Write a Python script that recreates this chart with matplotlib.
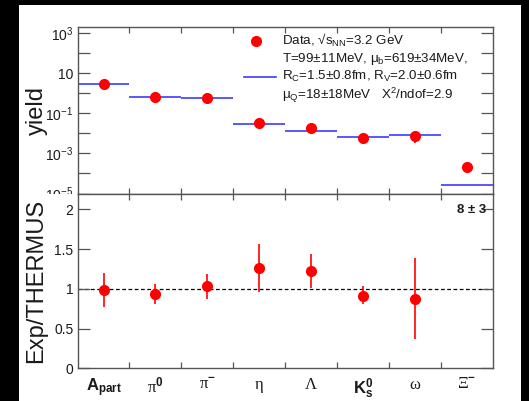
import numpy as np
import matplotlib
matplotlib.use("Agg")
import matplotlib.pyplot as plt
from matplotlib.patches import Rectangle
from matplotlib.transforms import Bbox, TransformedBbox

plt.rcParams['font.family'] = ['Liberation Sans', 'DejaVu Sans']
plt.rcParams['mathtext.fontset'] = 'custom'
plt.rcParams['mathtext.rm'] = 'Liberation Sans'
plt.rcParams['mathtext.it'] = 'Liberation Sans:italic'
plt.rcParams['mathtext.bf'] = 'Liberation Sans:bold'

# ---------------- data ----------------
categories = [r"A$_{\mathbf{part}}$", r"π$^{\mathbf{0}}$", r"π$^{\mathbf{-}}$", "η", "Λ",
              r"K$^{\mathbf{0}}_{\mathbf{s}}$", "ω", r"Ξ$^{\mathbf{-}}$"]
cat_bold = [True, False, False, False, False, True, False, False]
cat_serif = [False, True, True, True, True, False, True, True]

yield_data = [2.8, 0.65, 0.60, 0.035, 0.018, 0.0058, 0.0073, 2.1e-4]
yield_err = [0.3, 0.06, 0.06, 0.004, 0.002, 0.0006, 0.004, 2e-5]
yield_model = [3.0, 0.67, 0.60, 0.028, 0.014, 0.0065, 0.0079, 2.8e-5]

ratio = [0.99, 0.94, 1.035, 1.26, 1.22, 0.913, 0.875]
ratio_err_lo = [0.215, 0.13, 0.165, 0.30, 0.215, 0.11, 0.51]
ratio_err_hi = [0.215, 0.125, 0.155, 0.305, 0.22, 0.12, 0.51]

yield_ticks = [1e-5, 1e-4, 1e-3, 1e-2, 1e-1, 1, 10, 100, 1000]
yield_ticklabels = [r"10$^{-5}$", "", r"10$^{-3}$", "", r"10$^{-1}$", "", "10", "", r"10$^{3}$"]
ratio_ticks = [0, 0.5, 1, 1.5, 2]
ratio_ticklabels = ["0", "0.5", "1", "1.5", "2"]

W, H = 529, 401
fig = plt.figure(figsize=(W / 100, H / 100), dpi=100, facecolor='black')
fig.patches.append(Rectangle((19 / W, 0), 502 / W, 396 / H, transform=fig.transFigure,
                             facecolor='white', edgecolor='none', zorder=-10))

left, right = 77.6 / W, 492.6 / W
top_t, mid, bot = 1 - 27.3 / H, 1 - 193.5 / H, 1 - 368.3 / H
ax1 = fig.add_axes([left, mid, right - left, top_t - mid])
ax2 = fig.add_axes([left, bot, right - left, mid - bot])

n = len(categories)
x = np.arange(n) + 0.5
edges = np.arange(n + 1)
red = '#ff0000'
blue = '#3b3bff'
spc = '#555555'
txtc = '#1a1a1a'

# ---- top panel ----
ax1.set_yscale('log')
ax1.set_ylim(1e-5, 2000)
ax1.set_xlim(0, n)
ax1.hlines(yield_model, edges[:-1], edges[1:], color=blue, lw=1.2, zorder=2)
ax1.errorbar(x, yield_data, yerr=yield_err, fmt='o', color=red, ms=7, elinewidth=1.2,
             capsize=0, zorder=3)
ax1.set_yticks(yield_ticks)
ax1.set_yticklabels(yield_ticklabels)
ax1.yaxis.set_minor_locator(matplotlib.ticker.NullLocator())
ax1.set_xticks(edges[1:-1])
ax1.set_xticklabels([])

# legend
ax1.plot([0.429], [0.918], 'o', color=red, ms=7, transform=ax1.transAxes, clip_on=False)
ax1.plot([0.402, 0.479], [0.703, 0.703], color=blue, lw=1.2, transform=ax1.transAxes)
leg_lines = [r"Data, √s$_{\rm NN}$=3.2 GeV",
             r"T=99±11MeV, μ$_{\rm b}$=619±34MeV,",
             r"R$_{\rm C}$=1.5±0.8fm, R$_{\rm V}$=2.0±0.6fm",
             r"μ$_{\rm Q}$=18±18MeV   Χ$^{2}$/ndof=2.9"]
leg_y = [0.918, 0.808, 0.703, 0.588]
for s, yy in zip(leg_lines, leg_y):
    ax1.text(0.4925, yy, s, transform=ax1.transAxes, fontsize=9.6, va='center', ha='left',
             color=txtc)

# ---- bottom panel ----
ax2.set_xlim(0, n)
ax2.set_ylim(0, 2.2)
ax2.axhline(1, color='black', ls=(0, (3, 2)), lw=0.9, zorder=1)
ax2.errorbar(x[:len(ratio)], ratio, yerr=[ratio_err_lo, ratio_err_hi], fmt='o', color=red,
             ms=7, elinewidth=1.2, capsize=0, zorder=3)
ax2.set_yticks(ratio_ticks)
ax2.set_yticklabels(ratio_ticklabels)
ax2.set_xticks(edges[1:-1])
ax2.set_xticklabels([])
ax2.set_xticks(x, minor=True)
ax2.set_xticklabels(categories, minor=True)
ax2.tick_params(axis='x', which='minor', length=0, pad=6, labelsize=12)
for lab, b, s in zip(ax2.get_xticklabels(minor=True), cat_bold, cat_serif):
    lab.set_color(txtc)
    if b:
        lab.set_fontweight('bold')
    if s:
        lab.set_fontfamily(['Liberation Serif', 'DejaVu Serif'])
ax2.text(0.985, 0.905, "8 ± 3", transform=ax2.transAxes, ha='right', va='center',
         fontsize=9.5, fontweight='bold', color=txtc)

for ax in (ax1, ax2):
    for sp in ax.spines.values():
        sp.set_color(spc)
        sp.set_linewidth(1.0)
    ax.tick_params(axis='y', which='major', direction='in', left=True, right=True,
                   length=8.5, width=0.9, color=spc, labelsize=10, labelcolor=txtc, pad=3)
    ax.tick_params(axis='x', which='major', direction='in', top=True, bottom=True,
                   length=4.5, width=0.9, color=spc)

# clip the 10^-5 label like the reference
clipbox = TransformedBbox(Bbox([[0, mid], [1, 1]]), fig.transFigure)
for lab in ax1.get_yticklabels():
    lab.set_clip_on(True)
    lab.set_clip_box(clipbox)

fig.text(37 / W, (top_t + mid) / 2, "yield", rotation=90, fontsize=17, ha='center',
         va='center', color=txtc)
fig.text(36 / W, (mid + bot) / 2, "Exp/THERMUS", rotation=90, fontsize=17, ha='center',
         va='center', color=txtc)

fig.savefig("out.png", dpi=100, facecolor='black')
